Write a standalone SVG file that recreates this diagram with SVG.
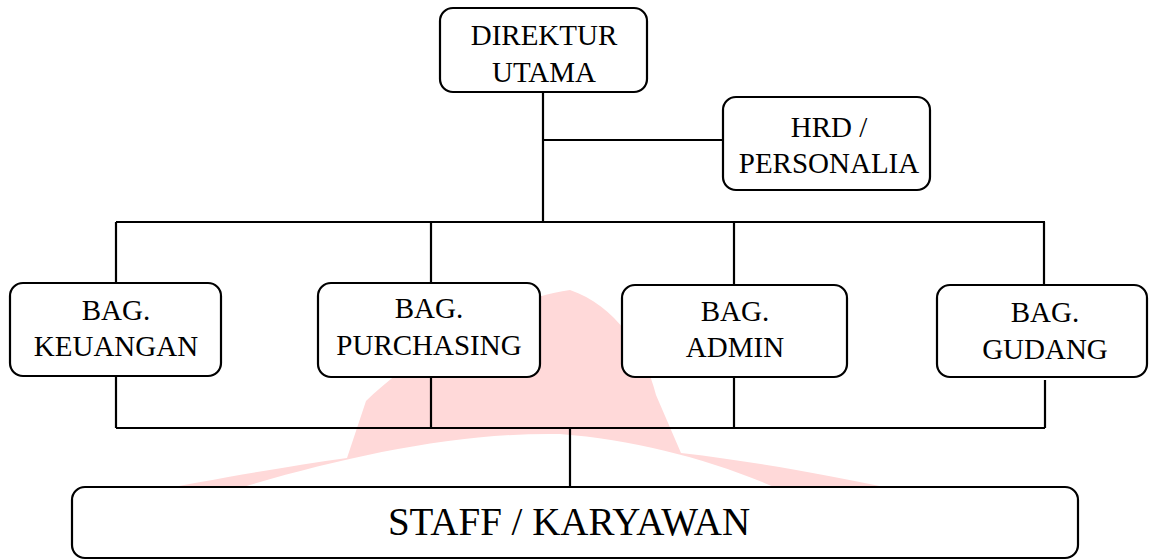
<svg xmlns="http://www.w3.org/2000/svg" width="1149" height="560" viewBox="0 0 1149 560">
<style>
.box{fill:#fff;stroke:#000;stroke-width:2.2}
.ln{fill:none;stroke:#000;stroke-width:2.2}
.t{font-family:"Liberation Serif","Times New Roman",serif;font-size:29px;fill:#000;text-anchor:middle}
.big{font-size:39px}
.wm{fill:#ffd9d9}
</style>
<rect width="1149" height="560" fill="#fff"/>
<g id="watermark">
<path class="wm" d="M137,494 C220,478 290,466 347,458 L366,401 C420,350 500,300 570,290 C615,305 645,350 656,395 L681,453 C760,462 830,476 889,488 L889,494 L790,494 C720,462 640,440 560,434 C450,432 330,460 220,494 Z"/>
</g>
<g id="connectors">
<path class="ln" d="M543,92 V222 M543,140 H723 M116,222 H1045 M116,222 V283 M431,222 V283 M734,222 V285 M1044,222 V285"/>
<path class="ln" d="M116,376 V428 M431,377 V428 M734,377 V428 M1045,380 V428 M116,428 H1045 M570,428 V487"/>
</g>
<g id="direktur">
<rect class="box" x="440" y="8" width="207" height="84" rx="13"/>
<text class="t" x="544" y="45">DIREKTUR</text>
<text class="t" x="544" y="82">UTAMA</text>
</g>
<g id="hrd">
<rect class="box" x="723" y="97" width="207" height="93" rx="13"/>
<text class="t" x="829" y="137">HRD /</text>
<text class="t" x="829" y="173">PERSONALIA</text>
</g>
<g id="keuangan">
<rect class="box" x="10" y="283" width="211" height="93" rx="13"/>
<text class="t" x="116" y="320">BAG.</text>
<text class="t" x="116" y="356">KEUANGAN</text>
</g>
<g id="purchasing">
<rect class="box" x="318" y="283" width="222" height="94" rx="13"/>
<text class="t" x="429" y="318">BAG.</text>
<text class="t" x="429" y="355">PURCHASING</text>
</g>
<g id="admin">
<rect class="box" x="622" y="285" width="225" height="92" rx="13"/>
<text class="t" x="735" y="321">BAG.</text>
<text class="t" x="735" y="357">ADMIN</text>
</g>
<g id="gudang">
<rect class="box" x="937" y="285" width="210" height="92" rx="13"/>
<text class="t" x="1045" y="322">BAG.</text>
<text class="t" x="1045" y="359">GUDANG</text>
</g>
<g id="staff">
<rect class="box" x="72" y="487" width="1006" height="71" rx="13"/>
<text class="t big" x="569" y="535">STAFF / KARYAWAN</text>
</g>
</svg>
